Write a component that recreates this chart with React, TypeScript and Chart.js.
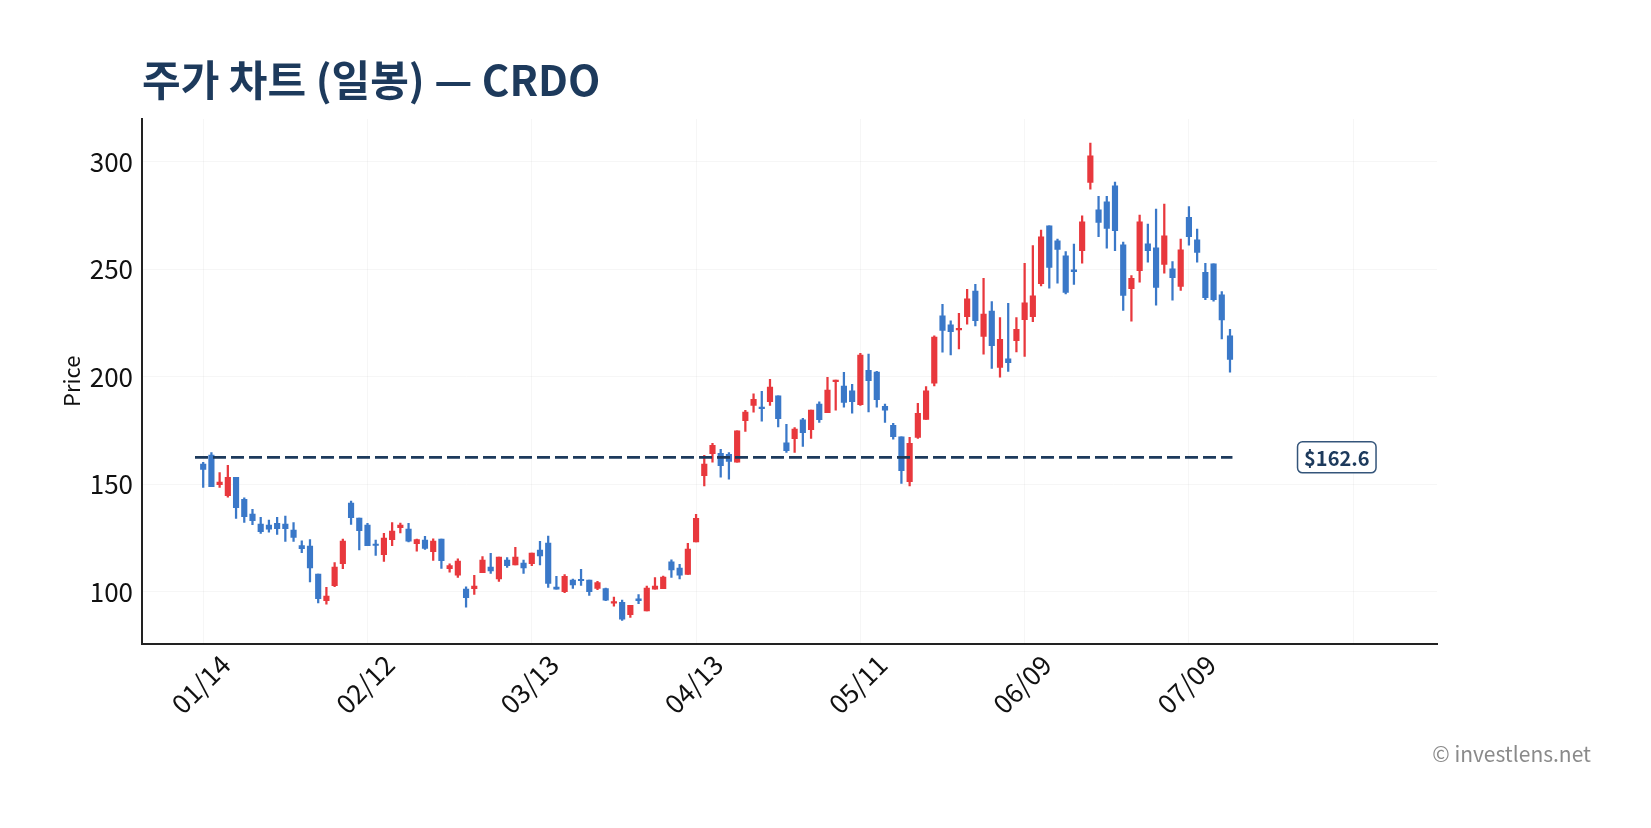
import React, { useEffect, useRef } from "react";
import { Chart, registerables } from "chart.js";

Chart.register(...registerables);

// ---- data ----
const opens = [
  159.5, 163.7, 149.9, 144.8, 153.3, 143.1, 136.2, 131.6, 131.1, 131.9,
  131.6, 128.8, 121.6, 121.3, 108.3, 95.9, 102.9, 113.1, 141.3, 134.4,
  131.1, 122.3, 117.3, 124.3, 129.9, 129.2, 122.4, 124.1, 118.7, 124.6,
  110.8, 107.8, 101.3, 101.5, 108.9, 111.5, 106.1, 114.8, 112.6, 113.4,
  113.1, 119.5, 122.7, 102.2, 100.1, 105.5, 105.6, 105.5, 101.6, 101.5,
  94.8, 95.2, 89.4, 96.8, 91.2, 101.3, 101.5, 114.0, 111.1, 108.1,
  123.3, 154.1, 164.3, 164.5, 164.0, 160.4, 179.7, 186.7, 185.9, 188.5,
  191.2, 169.3, 171.3, 180.1, 175.5, 187.4, 183.4, 197.8, 195.8, 193.5,
  187.1, 203.1, 202.3, 186.3, 177.5, 172.1, 151.3, 171.9, 180.3, 197.1,
  228.4, 224.2, 221.9, 228.1, 240.0, 218.8, 230.7, 204.4, 208.4, 216.9,
  226.7, 228.1, 243.4, 270.3, 263.3, 256.3, 249.8, 258.8, 290.5, 277.8,
  281.5, 288.9, 261.5, 241.1, 249.5, 261.9, 260.1, 252.3, 250.3, 242.1,
  274.3, 263.8, 248.7, 252.6, 238.2, 219.1,
];
const highs = [
  160.3, 164.8, 155.5, 158.9, 153.3, 143.8, 138.4, 134.7, 133.4, 134.7,
  135.3, 132.3, 123.8, 124.4, 108.3, 102.1, 113.7, 124.6, 142.3, 134.4,
  131.9, 124.1, 127.2, 132.3, 132.0, 131.9, 124.6, 125.8, 124.7, 124.6,
  113.1, 115.4, 102.4, 107.7, 116.4, 117.9, 116.2, 116.0, 120.7, 114.8,
  118.1, 123.5, 126.0, 107.2, 108.1, 106.0, 110.5, 105.5, 104.9, 101.8,
  97.6, 96.2, 93.8, 98.7, 102.7, 106.7, 107.4, 114.9, 112.8, 122.6,
  136.1, 163.5, 169.1, 166.3, 164.8, 174.9, 184.5, 192.1, 193.3, 198.9,
  191.2, 178.0, 176.4, 180.8, 184.6, 188.4, 199.8, 198.6, 202.2, 196.6,
  211.0, 210.6, 202.6, 187.4, 178.4, 172.1, 171.9, 187.7, 195.5, 219.1,
  233.8, 226.1, 229.6, 240.8, 243.1, 245.9, 235.1, 227.6, 234.3, 227.6,
  252.9, 261.1, 268.3, 270.3, 264.1, 258.3, 261.8, 274.9, 308.8, 284.0,
  284.0, 290.6, 262.7, 247.2, 275.3, 271.1, 278.1, 280.4, 253.7, 264.1,
  279.3, 268.8, 252.8, 252.6, 239.7, 222.2,
];
const lows = [
  148.6, 148.9, 148.6, 144.1, 134.2, 132.3, 131.3, 127.2, 127.8, 126.8,
  123.5, 123.5, 118.2, 104.7, 94.9, 94.3, 102.4, 110.8, 131.4, 119.5,
  121.5, 117.0, 114.2, 121.5, 127.4, 123.3, 119.0, 119.8, 114.6, 110.9,
  109.2, 106.7, 92.9, 98.8, 108.9, 108.6, 104.9, 111.4, 112.6, 108.6,
  112.2, 112.5, 102.1, 101.3, 99.6, 101.6, 103.0, 98.4, 101.1, 95.9,
  93.4, 86.7, 88.1, 94.5, 91.2, 101.3, 101.5, 106.7, 106.1, 108.1,
  123.3, 149.3, 160.4, 153.4, 152.5, 160.4, 174.7, 183.6, 179.4, 186.7,
  176.7, 164.9, 164.9, 167.7, 171.4, 178.9, 183.4, 184.5, 185.9, 183.1,
  186.8, 183.7, 186.0, 178.9, 171.0, 150.5, 149.3, 171.4, 180.3, 195.8,
  211.5, 210.2, 213.0, 224.5, 223.7, 210.6, 204.0, 199.9, 202.6, 211.6,
  209.5, 225.7, 242.4, 241.3, 243.6, 238.6, 243.1, 252.9, 287.4, 265.3,
  259.9, 258.8, 231.0, 225.9, 244.1, 253.4, 233.4, 248.3, 235.7, 240.3,
  261.3, 253.4, 235.9, 235.2, 217.7, 202.2,
];
const closes = [
  157.0, 149.0, 151.1, 153.3, 139.2, 135.0, 133.1, 128.0, 129.2, 129.4,
  129.4, 125.4, 120.1, 111.2, 96.8, 98.1, 111.6, 123.6, 134.5, 128.5,
  121.5, 121.6, 125.0, 128.3, 131.1, 123.6, 124.3, 120.2, 123.6, 114.5,
  112.3, 114.3, 97.3, 102.7, 114.8, 109.8, 116.2, 112.2, 116.2, 111.2,
  118.1, 116.8, 103.9, 101.3, 107.2, 103.3, 105.2, 100.1, 104.3, 96.2,
  95.4, 87.3, 93.8, 95.9, 101.8, 102.7, 106.9, 110.2, 107.8, 119.9,
  134.2, 159.5, 168.2, 158.7, 160.7, 174.9, 183.7, 189.6, 185.3, 195.3,
  180.6, 165.7, 175.8, 174.1, 184.6, 180.1, 193.9, 198.6, 188.1, 188.5,
  210.2, 198.3, 189.4, 184.5, 172.2, 156.4, 169.1, 183.1, 193.5, 218.6,
  221.6, 221.1, 222.5, 236.3, 226.2, 229.3, 214.6, 217.5, 206.7, 222.2,
  234.5, 237.7, 265.2, 250.9, 259.3, 239.3, 249.0, 272.2, 302.9, 271.9,
  269.1, 268.1, 237.9, 245.9, 272.2, 258.8, 241.6, 265.6, 246.2, 259.1,
  265.3, 257.9, 236.9, 235.9, 226.5, 208.1,
];
const tickLabels = ["01/14", "02/12", "03/13", "04/13", "05/11", "06/09", "07/09"];
const xTickValues = [0, 20, 40, 60, 80, 100, 120, 140];
const yTickValues = [100, 150, 200, 250, 300];
const refPrice = 162.6;
const refLineStart = -1;
const refLineEnd = 125.3;
const refLabelIndex = 138;

// ---- style ----
const FONT = "'Noto Sans CJK KR', 'Noto Sans', sans-serif";
const UP = "#e8383d";
const DOWN = "#3a78c8";
const NAVY = "#1d3a5c";
const GRID = "rgba(0,0,0,0.035)";

const refLabelPlugin = {
  id: "refLabel",
  afterDatasetsDraw(chart: any) {
    const { ctx, scales } = chart;
    const px = scales.x.getPixelForValue(refLabelIndex);
    const py = scales.y.getPixelForValue(refPrice);
    const text = "$" + refPrice.toFixed(1);
    ctx.save();
    ctx.font = `bold 20px ${FONT}`;
    const w = ctx.measureText(text).width + 13;
    const h = 31;
    ctx.beginPath();
    (ctx as any).roundRect(px - w / 2, py - h / 2, w, h, 5);
    ctx.fillStyle = "#ffffff";
    ctx.fill();
    ctx.lineWidth = 1.5;
    ctx.strokeStyle = "#34557a";
    ctx.stroke();
    ctx.fillStyle = NAVY;
    ctx.textAlign = "center";
    ctx.textBaseline = "middle";
    ctx.fillText(text, px, py + 1);
    ctx.restore();
  },
};

export default function App() {
  const ref = useRef<HTMLCanvasElement | null>(null);

  useEffect(() => {
    if (!ref.current) return;
    const colors = opens.map((o, i) => (closes[i] >= o ? UP : DOWN));
    const chart = new Chart(ref.current, {
      type: "bar",
      data: {
        datasets: [
          {
            type: "line",
            data: [
              { x: refLineStart, y: refPrice },
              { x: refLineEnd, y: refPrice },
            ],
            borderColor: NAVY,
            borderWidth: 2.7,
            borderDash: [13, 5],
            pointRadius: 0,
            order: 0,
          } as any,
          {
            type: "bar",
            data: opens.map((o, i) => ({ x: i, y: [o, closes[i]] })),
            backgroundColor: colors,
            borderWidth: 0,
            barThickness: 5.5,
            minBarLength: 1.5,
            grouped: false,
            order: 1,
          } as any,
          {
            type: "bar",
            data: opens.map((_, i) => ({ x: i, y: [lows[i], highs[i]] })),
            backgroundColor: colors,
            borderWidth: 0,
            barThickness: 1.6,
            grouped: false,
            order: 2,
          } as any,
        ],
      },
      options: {
        animation: false,
        responsive: false,
        devicePixelRatio: 1,
        layout: { padding: { left: 58, top: 119, right: 214, bottom: 84.5 } },
        plugins: {
          legend: { display: false },
          tooltip: { enabled: false },
          title: { display: false },
        },
        scales: {
          x: {
            type: "linear",
            min: -7.45,
            max: 150.2,
            offset: false,
            afterBuildTicks: (s: any) => {
              s.ticks = xTickValues.map((v) => ({ value: v }));
            },
            afterFit: (s: any) => {
              s.height = 100;
            },
            ticks: {
              autoSkip: false,
              minRotation: 45,
              maxRotation: 45,
              labelOffset: 22,
              padding: 5,
              color: "#111",
              font: { family: FONT, size: 26.5 },
              callback: (v: any) => tickLabels[Math.round(v / 20)] ?? "",
            },
            grid: { color: GRID, drawTicks: false, offset: false },
            border: { color: "#222", width: 2 },
          },
          y: {
            min: 76,
            max: 320,
            afterBuildTicks: (s: any) => {
              s.ticks = yTickValues.map((v) => ({ value: v }));
            },
            afterFit: (s: any) => {
              s.width = 84;
            },
            ticks: {
              padding: 9,
              color: "#111",
              font: { family: FONT, size: 26 },
            },
            title: {
              display: true,
              text: "Price",
              color: "#111",
              font: { family: FONT, size: 22 },
              padding: 0,
            },
            grid: { color: GRID, drawTicks: false },
            border: { color: "#222", width: 2 },
          },
        },
      } as any,
      plugins: [refLabelPlugin],
    });
    return () => chart.destroy();
  }, []);

  return (
    <div
      style={{
        position: "fixed",
        left: 0,
        top: 0,
        width: 1651,
        height: 828,
        background: "#fff",
        overflow: "hidden",
      }}
    >
      <canvas
        ref={ref}
        width={1651}
        height={828}
        style={{ position: "absolute", left: 0, top: 0, width: 1651, height: 828 }}
      />
      <div
        style={{
          position: "absolute",
          left: 142,
          top: 57,
          fontFamily: FONT,
          fontWeight: 700,
          fontSize: 42,
          lineHeight: 1,
          color: NAVY,
          whiteSpace: "nowrap",
        }}
      >
        주가 차트 (일봉) — CRDO
      </div>
      <div
        style={{
          position: "absolute",
          right: 60,
          top: 743,
          fontFamily: FONT,
          fontSize: 21,
          lineHeight: 1,
          color: "#8a8a8a",
          whiteSpace: "nowrap",
        }}
      >
        © investlens.net
      </div>
    </div>
  );
}
